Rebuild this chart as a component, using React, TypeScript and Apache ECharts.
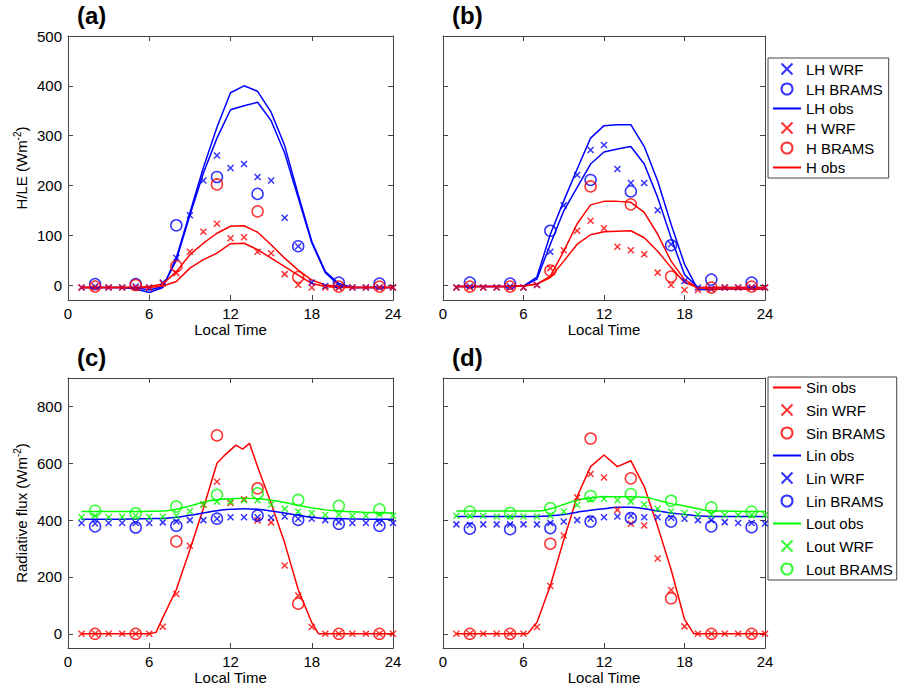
import React, { useEffect, useRef } from "react";
import * as echarts from "echarts";

const HOURS = [1,2,3,4,5,6,7,8,9,10,11,12,13,14,15,16,17,18,19,20,21,22,23,24];
const B_HOURS = [2,5,8,11,14,17,20,23];
const TOP_Y_TICKS = [0,100,200,300,400,500];
const BOT_Y_TICKS = [0,200,400,600,800];

const a_LH_obs1 = [-5,-5,-5,-5,-8,-15,-5,55,145,236,317,386,400,389,347,280,182,88,27,3,-5,-5,-5,-5];
const a_LH_obs2 = [-5,-5,-5,-5,-5,-10,-3,50,140,225,295,352,360,367,330,265,175,85,25,0,-5,-5,-5,-5];
const a_LH_wrf = [-5,-3,-5,-5,-3,-5,5,55,140,210,260,235,243,217,210,135,78,5,-2,-5,-5,-5,-5,-5];
const a_LH_brams = [2,2,120,217,183,78,5,3];
const a_H_obs1 = [-5,-5,-5,-5,-5,-3,2,27,61,84,104,118,119,106,81,54,30,10,0,-3,-5,-5,-5,-5];
const a_H_obs2 = [-5,-5,-5,-5,-5,-5,-2,7,34,51,64,83,84,71,54,37,20,3,-3,-5,-5,-5,-5,-5];
const a_H_wrf = [-5,-5,-5,-5,-5,-5,3,24,67,107,123,94,96,67,64,22,0,-5,-5,-5,-5,-5,-5,-5];
const a_H_brams = [-3,0,38,202,148,16,-3,-3];

const b_LH_obs1 = [-3,-3,-3,-3,-3,-2,16,102,169,233,295,320,322,322,278,209,122,42,-9,-9,-8,-8,-8,-8];
const b_LH_obs2 = [-3,-3,-3,-3,-3,-2,12,82,149,196,243,267,273,278,243,176,95,21,-5,-5,-5,-5,-5,-5];
const b_LH_wrf = [-5,-3,-5,-5,-3,-5,0,67,160,221,271,281,233,205,205,150,82,8,-5,-8,-5,-5,-5,-5];
const b_LH_brams = [5,3,109,211,188,80,11,5];
const b_H_obs1 = [-3,-3,-3,-3,-3,-2,2,18,68,123,161,168,168,166,146,102,48,11,-5,-5,-5,-5,-5,-5];
const b_H_obs2 = [-3,-3,-3,-3,-3,-2,2,15,48,82,101,107,108,109,95,68,35,5,-5,-8,-8,-8,-8,-8];
const b_H_wrf = [-5,-5,-5,-5,-5,-5,0,34,70,109,129,114,77,70,62,25,0,-10,-10,-8,-5,-5,-5,-5];
const b_H_brams = [-3,-3,29,198,162,17,-5,-3];

const c_SIN_T = [1,6,6.5,7,8,9,10,11,11.5,12.4,12.9,13.4,14,15,16,17,18,18.5,24];
const c_SIN_OBS = [0,0,5,57,156,296,442,600,625,664,650,670,588,459,320,156,40,0,0];
const c_SIN_WRF = [0,0,0,0,0,0,25,140,310,455,535,460,473,399,392,240,135,24,0,0,0,0,0,0];
const c_SIN_BRAMS = [0,0,325,698,512,106,0,0];
const c_LIN_OBS = [403,403,403,403,404,405,406,410,417,425,433,438,440,438,432,425,417,410,406,405,404,403,403,403];
const c_LIN_WRF = [390,388,390,390,390,390,392,395,400,400,405,410,410,410,408,413,405,405,400,393,390,390,390,390];
const c_LIN_BRAMS = [378,374,380,405,416,401,387,380];
const c_LOUT_OBS = [430,430,430,430,430,431,432,438,450,463,472,475,477,475,470,462,452,443,436,432,429,427,426,425];
const c_LOUT_WRF = [410,415,410,412,415,412,412,415,431,455,465,465,470,470,455,440,430,425,418,420,415,415,420,415];
const c_LOUT_BRAMS = [433,424,448,489,494,471,450,438];

const d_SIN_T = [1,6,6.3,7,8,9,10,11,12,13,14,15,16,17,18,18.7,24];
const d_SIN_OBS = [0,0,0,40,170,330,483,588,629,588,609,518,378,226,51,0,0];
const d_SIN_WRF = [0,0,0,0,0,0,24,168,346,480,562,550,436,387,381,265,154,26,0,0,0,0,0,0];
const d_SIN_BRAMS = [0,0,317,687,547,125,0,0];
const d_LIN_OBS = [413,413,413,413,413,413,413,415,420,428,435,440,445,445,440,432,425,420,415,413,413,413,413,413];
const d_LIN_WRF = [385,383,385,385,385,385,385,390,395,400,405,410,413,415,410,410,408,405,400,400,393,390,390,388];
const d_LIN_BRAMS = [370,368,372,395,407,395,378,375];
const d_LOUT_OBS = [432,432,432,432,432,432,432,440,455,470,478,482,482,482,480,470,458,450,440,433,432,431,430,430];
const d_LOUT_WRF = [415,415,415,413,413,413,413,415,430,453,473,475,470,465,455,440,430,425,420,420,418,418,418,418];
const d_LOUT_BRAMS = [430,425,442,485,492,468,445,430];

const BLUE = "#0000ff", RED = "#ff0000", GREEN = "#00ff00";
const FONT = "Liberation Sans";
const XSYM = "path://M0,0L10,10M10,0L0,10";

const zip = (xs: number[], ys: number[]) => xs.map((x, i) => [x, ys[i]]);

function lineS(name: string, g: number, xs: number[], ys: number[], color: string) {
  return { type: "line", name, xAxisIndex: g * 2, yAxisIndex: g * 2, data: zip(xs, ys), symbol: "none",
    lineStyle: { color, width: 1.5 }, itemStyle: { color }, z: 2 };
}
function crossS(name: string, g: number, ys: number[], color: string) {
  return { type: "scatter", name, xAxisIndex: g * 2, yAxisIndex: g * 2, data: zip(HOURS, ys), symbol: XSYM,
    symbolSize: 6, itemStyle: { color: "none", borderColor: color, borderWidth: 1.5 }, z: 3 };
}
function circS(name: string, g: number, ys: number[], color: string) {
  return { type: "scatter", name, xAxisIndex: g * 2, yAxisIndex: g * 2, data: zip(B_HOURS, ys), symbol: "circle",
    symbolSize: 11, itemStyle: { color: "none", borderColor: color, borderWidth: 1.5 }, z: 3 };
}

export default function App() {
  const ref = useRef<HTMLDivElement>(null);
  useEffect(() => {
    const chart = echarts.init(ref.current!, null, { renderer: "svg" });
    const grids = [
      { left: 68, top: 36, width: 325, height: 264 },
      { left: 443, top: 36, width: 322, height: 264 },
      { left: 68, top: 378, width: 325, height: 270 },
      { left: 443, top: 378, width: 322, height: 270 },
    ];
    const axisLine = { show: true, onZero: false, lineStyle: { color: "#444", width: 1 } };
    const xAxis: any[] = [];
    const yAxis: any[] = [];
    grids.forEach((_, g) => {
      const top = g < 2;
      const showY = g % 2 === 0;
      xAxis.push({ type: "value", gridIndex: g, min: 0, max: 24, interval: 6, position: "bottom",
        axisLine, splitLine: { show: false }, axisTick: { inside: true, length: 5, lineStyle: { color: "#444" } },
        axisLabel: { color: "#000", fontSize: 15, fontFamily: FONT, margin: 6 },
        name: "Local Time", nameLocation: "middle", nameGap: 22,
        nameTextStyle: { color: "#000", fontSize: 15, fontFamily: FONT } });
      xAxis.push({ type: "value", gridIndex: g, min: 0, max: 24, interval: 6, position: "top",
        axisLine, splitLine: { show: false }, axisTick: { inside: true, length: 5, lineStyle: { color: "#444" } },
        axisLabel: { show: false } });
      const ticks = top ? TOP_Y_TICKS : BOT_Y_TICKS;
      const yb = { type: "value", gridIndex: g, min: top ? -30 : -50, max: top ? 500 : 900,
        axisLine, splitLine: { show: false },
        axisTick: { inside: true, length: 5, customValues: ticks, lineStyle: { color: "#444" } } };
      yAxis.push({ ...yb, position: "left",
        axisLabel: { show: showY, customValues: ticks, color: "#000", fontSize: 15, fontFamily: FONT, margin: 6 },
        name: showY ? (top ? "H/LE (Wm{s|-2})" : "Radiative flux (Wm{s|-2})") : "",
        nameLocation: "middle", nameGap: 38,
        nameTextStyle: { color: "#000", fontSize: 15, fontFamily: FONT,
          rich: { s: { fontSize: 10, fontFamily: FONT, color: "#000", verticalAlign: "top", padding: [0, 0, 8, 0] } } } });
      yAxis.push({ ...yb, position: "right", axisLabel: { show: false } });
    });

    const series: any[] = [];
    const topPanels = [
      [a_LH_obs1, a_LH_obs2, a_LH_wrf, a_LH_brams, a_H_obs1, a_H_obs2, a_H_wrf, a_H_brams],
      [b_LH_obs1, b_LH_obs2, b_LH_wrf, b_LH_brams, b_H_obs1, b_H_obs2, b_H_wrf, b_H_brams],
    ];
    topPanels.forEach((p, g) => {
      series.push(lineS("LH obs", g, HOURS, p[0], BLUE), lineS("LH obs", g, HOURS, p[1], BLUE),
        crossS("LH WRF", g, p[2], BLUE), circS("LH BRAMS", g, p[3], BLUE),
        lineS("H obs", g, HOURS, p[4], RED), lineS("H obs", g, HOURS, p[5], RED),
        crossS("H WRF", g, p[6], RED), circS("H BRAMS", g, p[7], RED));
    });
    const botPanels: any[] = [
      [c_SIN_T, c_SIN_OBS, c_SIN_WRF, c_SIN_BRAMS, c_LIN_OBS, c_LIN_WRF, c_LIN_BRAMS, c_LOUT_OBS, c_LOUT_WRF, c_LOUT_BRAMS],
      [d_SIN_T, d_SIN_OBS, d_SIN_WRF, d_SIN_BRAMS, d_LIN_OBS, d_LIN_WRF, d_LIN_BRAMS, d_LOUT_OBS, d_LOUT_WRF, d_LOUT_BRAMS],
    ];
    botPanels.forEach((p, i) => {
      const g = i + 2;
      series.push(lineS("Sin obs", g, p[0], p[1], RED), crossS("Sin WRF", g, p[2], RED), circS("Sin BRAMS", g, p[3], RED),
        { ...lineS("Lin obs", g, HOURS, p[4], BLUE), smooth: true }, crossS("Lin WRF", g, p[5], BLUE), circS("Lin BRAMS", g, p[6], BLUE),
        { ...lineS("Lout obs", g, HOURS, p[7], GREEN), smooth: true }, crossS("Lout WRF", g, p[8], GREEN), circS("Lout BRAMS", g, p[9], GREEN));
    });

    const legendBase = { orient: "vertical", backgroundColor: "#fff", borderColor: "#444", borderWidth: 1,
      itemWidth: 28, itemHeight: 11, selectedMode: false,
      textStyle: { color: "#000", fontSize: 15, fontFamily: FONT } };
    const ln = (name: string) => ({ name, itemStyle: { opacity: 0 } });
    const titleText = (t: string, x: number, y: number) => ({ type: "text", left: x, top: y,
      style: { text: t, font: `bold 24px ${FONT}`, fill: "#000" } });

    chart.setOption({
      animation: false,
      grid: grids,
      xAxis, yAxis, series,
      legend: [
        { ...legendBase, left: 768, top: 58, itemGap: 4, padding: [3, 6, 3, 4],
          data: ["LH WRF", "LH BRAMS", ln("LH obs"), "H WRF", "H BRAMS", ln("H obs")] },
        { ...legendBase, left: 768, top: 377, itemGap: 7, padding: [3, 4, 3, 4],
          data: [ln("Sin obs"), "Sin WRF", "Sin BRAMS", ln("Lin obs"), "Lin WRF", "Lin BRAMS", ln("Lout obs"), "Lout WRF", "Lout BRAMS"] },
      ],
      graphic: [titleText("(a)", 77, 3), titleText("(b)", 452, 3), titleText("(c)", 77, 345), titleText("(d)", 452, 345)],
    });
    return () => chart.dispose();
  }, []);
  return <div ref={ref} style={{ position: "absolute", left: 0, top: 0, width: 910, height: 689, background: "#fff" }} />;
}
